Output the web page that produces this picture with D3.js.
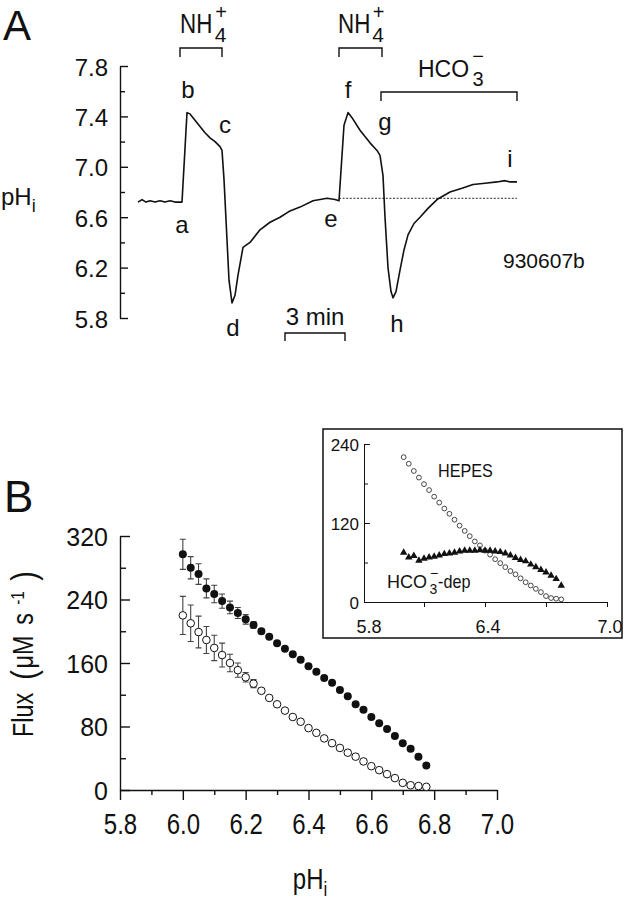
<!DOCTYPE html>
<html><head><meta charset="utf-8">
<script src="https://cdn.jsdelivr.net/npm/d3@7"></script>
<style>
body{margin:0;background:#fff}
svg{display:block}
text{font-family:"Liberation Sans",Arial,Helvetica,sans-serif;fill:#111}
</style>
</head><body>
<svg id="c" width="625" height="900"></svg>
<script>
// ================= DATA =================
// Panel A: pHi trace (time in min, pHi)
const traceTime = [0,0.2,0.4,0.6,0.85,1.1,1.35,1.6,1.85,2.1,2.2,2.45,2.6,2.85,3.1,3.35,3.6,3.85,4.1,4.2,4.3,4.45,4.55,4.7,4.85,5.0,5.25,5.6,6.1,6.6,7.1,7.6,8.1,8.75,9.45,9.85,10.05,10.15,10.3,10.5,10.7,11.1,11.6,11.95,12.1,12.25,12.35,12.5,12.65,12.75,12.9,13.1,13.3,13.5,13.8,14.1,14.5,14.95,15.6,16.2,16.75,17.35,17.95,18.35,18.6,18.95];
const tracePH   = [6.72,6.74,6.72,6.73,6.72,6.73,6.72,6.73,6.72,6.72,6.72,7.43,7.42,7.37,7.32,7.27,7.23,7.20,7.16,7.13,6.90,6.42,6.10,5.92,5.98,6.14,6.36,6.40,6.50,6.56,6.60,6.65,6.68,6.73,6.75,6.74,6.73,6.97,7.33,7.43,7.39,7.29,7.19,7.13,7.09,6.93,6.60,6.20,6.01,5.96,6.01,6.18,6.34,6.46,6.55,6.60,6.67,6.74,6.80,6.83,6.86,6.87,6.88,6.89,6.88,6.88];
const phTicksA = [5.8,6.2,6.6,7.0,7.4,7.8];
const phMinorA = [6.0,6.4,6.8,7.2,7.6];
const refLinePH = 6.75, refLineStart = 10.05, refLineEnd = 18.95;
const pointLabels    = ["a","b","c","d","e","f","g","h","i"];
const pointLabelTime = [2.2,2.5,4.35,4.75,9.65,10.5,12.35,12.95,18.6];
const pointLabelPH   = [6.475,7.546,7.268,5.657,6.522,7.546,7.292,5.689,6.998];
const bracketStart = [2.1,10.05,12.15];
const bracketEnd   = [4.2,12.2,18.95];
const scaleBarStart = 7.35, scaleBarMin = 3;
const expId = "930607b";

// Panel B: flux vs pHi
const phB = [6.0,6.025,6.05,6.075,6.1,6.125,6.15,6.175,6.2,6.225,6.25,6.275,6.3,6.325,6.35,6.375,6.4,6.425,6.45,6.475,6.5,6.525,6.55,6.575,6.6,6.625,6.65,6.675,6.7,6.725,6.75,6.775];
const fluxCO2   = [297,280,272,254,247,238,230,223,215,208,200,193,185,178,171,164,156,149,141,135,126,118,108,101,92,84,77,68,59,52,42,31];
const errCO2    = [19,14,13,12,11,9,8,7,6,4,3,0,0,0,0,0,0,0,0,0,0,0,0,0,0,0,0,0,0,0,0,0];
const fluxHEPES = [220,210,199,189,179,170,160,151,142,134,125,116,108,100,92,86,78,72,65,59,53,47,42,36,30,25,20,15,9,6,5,4];
const errHEPES  = [24,23,20,17,16,15,11,9,6,5,3,0,0,0,0,0,0,0,0,0,0,0,0,0,0,0,0,0,0,0,0,0];
const fluxTicksB = [0,80,160,240,320];
const fluxMinorB = [40,120,200,280];
const phTicksB = [5.8,6.0,6.2,6.4,6.6,6.8,7.0];
const phMinorB = [5.9,6.1,6.3,6.5,6.7,6.9];

// Inset
const fluxHCO3dep = [75,68,70,63,66,68,69,71,73,74,75,77,78,78,78,79,78,78,77,76,74,71,67,64,62,57,53,49,45,40,35,25];
const insetYTicks = [0,120,240];
const insetYMinor = [60,180];
const insetXTicks = [6.1,6.4,6.7,7.0];
const insetXLabels = [5.8,6.4,7.0];

// ================= DRAW =================
const svg = d3.select("#c");
const FONT = '"Liberation Sans", Arial, Helvetica, sans-serif';
const INK = "#111";
const fmt1 = d3.format(".1f");

function styleAxis(g, fs){
  g.attr("font-family", FONT);
  g.select(".domain").attr("stroke", INK).attr("stroke-width", 1.4);
  g.selectAll(".tick line").attr("stroke", INK).attr("stroke-width", 1.4);
  g.selectAll(".tick text").attr("font-size", fs).attr("font-family", FONT).attr("fill", INK);
}

// ---------- Panel A ----------
const xA = d3.scaleLinear().domain([0,19]).range([138,518]);
const yA = d3.scaleLinear().domain([5.8,7.8]).range([318,66]);

svg.append("text").attr("x",3).attr("y",40).attr("font-size",42).text("A");

const axA = svg.append("g").attr("transform","translate(120,0)")
  .call(d3.axisLeft(yA).tickValues(phTicksA).tickFormat(fmt1).tickSizeInner(-8).tickSizeOuter(0).tickPadding(12));
styleAxis(axA, 24);
axA.selectAll(".tick text").attr("dy","0.38em");
const axAm = svg.append("g").attr("transform","translate(120,0)")
  .call(d3.axisLeft(yA).tickValues(phMinorA).tickFormat("").tickSizeInner(-5).tickSizeOuter(0));
styleAxis(axAm, 10);
axAm.select(".domain").remove();

// y label pHi
const lblA = svg.append("text").attr("x",1).attr("y",205).attr("font-size",24);
lblA.append("tspan").text("pH");
lblA.append("tspan").attr("font-size",18).attr("dy",7).text("i");

// reference dotted line
svg.append("line")
  .attr("x1", xA(refLineStart)).attr("x2", xA(refLineEnd))
  .attr("y1", yA(refLinePH)).attr("y2", yA(refLinePH))
  .attr("stroke", INK).attr("stroke-width", 0.9).attr("stroke-dasharray","2,1.6");

// trace
const traceData = traceTime.map((t,i)=>({t, p: tracePH[i]}));
svg.append("path").datum(traceData)
  .attr("fill","none").attr("stroke",INK).attr("stroke-width",1.6).attr("stroke-linejoin","round")
  .attr("d", d3.line().x(d=>xA(d.t)).y(d=>yA(d.p)));

// point labels
svg.append("g").selectAll("text").data(pointLabels).join("text")
  .attr("x",(d,i)=>xA(pointLabelTime[i])).attr("y",(d,i)=>yA(pointLabelPH[i]))
  .attr("text-anchor","middle").attr("font-size",24).text(d=>d);

// brackets
const brY = [48,48,92];
bracketStart.forEach((s,i)=>{
  const x1 = xA(s), x2 = xA(bracketEnd[i]), y = brY[i];
  svg.append("path").attr("d",`M${x1},${y+9}V${y}H${x2}V${y+9}`)
    .attr("fill","none").attr("stroke",INK).attr("stroke-width",1.4);
});
// NH4+ labels
[[180,220.5],[338,378]].forEach(([xs,xc])=>{
  svg.append("text").attr("transform",`translate(${xs},33) scale(0.8,1)`).attr("font-size",28).text("NH");
  svg.append("text").attr("x",xc).attr("y",42).attr("text-anchor","middle").attr("font-size",21).text("4");
  svg.append("text").attr("x",xc+0.5).attr("y",19).attr("text-anchor","middle").attr("font-size",20).text("+");
});
// HCO3- label
svg.append("text").attr("x",418).attr("y",77).attr("font-size",23).text("HCO");
svg.append("text").attr("x",478).attr("y",86).attr("text-anchor","middle").attr("font-size",20).text("3");
svg.append("text").attr("x",478).attr("y",63).attr("text-anchor","middle").attr("font-size",20).text("\u2212");

// experiment id
svg.append("text").attr("x",503).attr("y",268).attr("font-size",21).text(expId);

// scale bar
const sb1 = xA(scaleBarStart), sb2 = xA(scaleBarStart+scaleBarMin);
svg.append("path").attr("d",`M${sb1},341V333H${sb2}V341`).attr("fill","none").attr("stroke",INK).attr("stroke-width",1.4);
svg.append("text").attr("x",(sb1+sb2)/2).attr("y",325).attr("text-anchor","middle").attr("font-size",24).text(scaleBarMin+" min");

// ---------- Panel B ----------
const xB = d3.scaleLinear().domain([5.8,7.0]).range([120,497]);
const yB = d3.scaleLinear().domain([0,320]).range([790,536]);

svg.append("text").attr("x",4).attr("y",512).attr("font-size",44).text("B");

const ayB = svg.append("g").attr("transform","translate(120,0)")
  .call(d3.axisLeft(yB).tickValues(fluxTicksB).tickSizeInner(-10).tickSizeOuter(0).tickPadding(12));
styleAxis(ayB, 25);
ayB.selectAll(".tick text").attr("dy","0.36em");
const ayBm = svg.append("g").attr("transform","translate(120,0)")
  .call(d3.axisLeft(yB).tickValues(fluxMinorB).tickFormat("").tickSizeInner(-6).tickSizeOuter(0));
styleAxis(ayBm, 10); ayBm.select(".domain").remove();

const axB = svg.append("g").attr("transform","translate(0,790)")
  .call(d3.axisBottom(xB).tickValues(phTicksB).tickFormat(fmt1).tickSizeInner(10).tickSizeOuter(0).tickPadding(13));
styleAxis(axB, 30);
axB.selectAll(".tick text").attr("transform","scale(0.8,1)");
const axBm = svg.append("g").attr("transform","translate(0,790)")
  .call(d3.axisBottom(xB).tickValues(phMinorB).tickFormat("").tickSizeInner(5).tickSizeOuter(0));
styleAxis(axBm, 10); axBm.select(".domain").remove();

// axis labels B
const lblB = svg.append("text").attr("transform","translate(310,889) scale(0.8,1)").attr("text-anchor","middle").attr("font-size",30);
lblB.append("tspan").text("pH");
lblB.append("tspan").attr("font-size",21).attr("dy",7).text("i");

const fl = svg.append("g").attr("transform","translate(33,0) rotate(-90)");
fl.append("text").attr("transform","translate(-737,0) scale(0.78,1)").attr("font-size",30).text("Flux");
fl.append("text").attr("transform","translate(-675,3) scale(0.8,1)").attr("text-anchor","middle").attr("font-size",36).text("(");
fl.append("text").attr("transform","translate(-652,0) scale(0.78,1)").attr("text-anchor","middle").attr("font-size",30).text("\u03BCM");
fl.append("text").attr("transform","translate(-619,0) scale(0.78,1)").attr("text-anchor","middle").attr("font-size",30).text("s");
fl.append("text").attr("transform","translate(-598,-9) scale(0.85,1)").attr("text-anchor","middle").attr("font-size",18).text("-1");
fl.append("text").attr("transform","translate(-576,3) scale(0.8,1)").attr("text-anchor","middle").attr("font-size",36).text(")");

// error bars
function errorBars(vals, errs){
  const g = svg.append("g").attr("stroke","#444").attr("stroke-width",1.1).attr("fill","none");
  phB.forEach((p,i)=>{
    if(!errs[i]) return;
    const x = xB(p), y1 = yB(vals[i]-errs[i]), y2 = yB(vals[i]+errs[i]);
    g.append("path").attr("d",`M${x},${y1}V${y2}M${x-3},${y1}H${x+3}M${x-3},${y2}H${x+3}`);
  });
}
errorBars(fluxCO2, errCO2);
errorBars(fluxHEPES, errHEPES);

svg.append("g").selectAll("circle").data(phB).join("circle")
  .attr("cx",d=>xB(d)).attr("cy",(d,i)=>yB(fluxHEPES[i])).attr("r",3.8)
  .attr("fill","#fff").attr("stroke",INK).attr("stroke-width",1);
svg.append("g").selectAll("circle").data(phB).join("circle")
  .attr("cx",d=>xB(d)).attr("cy",(d,i)=>yB(fluxCO2[i])).attr("r",4)
  .attr("fill",INK);

// ---------- Inset ----------
svg.append("rect").attr("x",323).attr("y",429).attr("width",299).attr("height",209)
  .attr("fill","#fff").attr("stroke",INK).attr("stroke-width",1.5);
const xI = d3.scaleLinear().domain([5.8,7.0]).range([363,607]);
const yI = d3.scaleLinear().domain([0,240]).range([602,444]);

const ayI = svg.append("g").attr("transform","translate(364,0)")
  .call(d3.axisLeft(yI).tickValues(insetYTicks).tickSizeInner(-6).tickSizeOuter(0).tickPadding(5));
styleAxis(ayI, 17);
ayI.selectAll(".tick text").attr("dy","0.36em");
ayI.select(".domain").attr("stroke-width",1);
ayI.selectAll(".tick line").attr("stroke-width",1);
const ayIm = svg.append("g").attr("transform","translate(364,0)")
  .call(d3.axisLeft(yI).tickValues(insetYMinor).tickFormat("").tickSizeInner(-4).tickSizeOuter(0));
styleAxis(ayIm, 10); ayIm.select(".domain").remove(); ayIm.selectAll(".tick line").attr("stroke-width",1);

const axI = svg.append("g").attr("transform","translate(0,602)")
  .call(d3.axisBottom(xI).tickValues(insetXTicks).tickFormat("").tickSizeInner(5).tickSizeOuter(0));
styleAxis(axI, 10);
axI.select(".domain").attr("d",`M${xI(5.8)+1},0.5H${xI(7.0)}`).attr("stroke-width",1);
axI.selectAll(".tick line").attr("stroke-width",1);
svg.append("g").selectAll("text").data(insetXLabels).join("text")
  .attr("x",(d,i)=>xI(d)+(i===0?6:3)).attr("y",633).attr("text-anchor","middle").attr("font-size",18).text(fmt1);

svg.append("g").selectAll("circle").data(phB).join("circle")
  .attr("cx",d=>xI(d)).attr("cy",(d,i)=>yI(fluxHEPES[i])).attr("r",2.4)
  .attr("fill","#fff").attr("stroke","#333").attr("stroke-width",0.9);
const tri = d3.symbol().type(d3.symbolTriangle).size(24);
svg.append("g").selectAll("path").data(phB).join("path")
  .attr("transform",(d,i)=>`translate(${xI(d)},${yI(fluxHCO3dep[i])})`)
  .attr("d",tri).attr("fill",INK);

svg.append("text").attr("transform","translate(438,477) scale(0.9,1)").attr("font-size",18).text("HEPES");
svg.append("text").attr("x",387).attr("y",588).attr("font-size",18).text("HCO");
svg.append("text").attr("x",433.5).attr("y",594).attr("text-anchor","middle").attr("font-size",14).text("3");
svg.append("text").attr("x",434).attr("y",578).attr("text-anchor","middle").attr("font-size",14).text("\u2212");
svg.append("text").attr("transform","translate(438,588) scale(0.9,1)").attr("font-size",18).text("-dep");
</script>
</body></html>
